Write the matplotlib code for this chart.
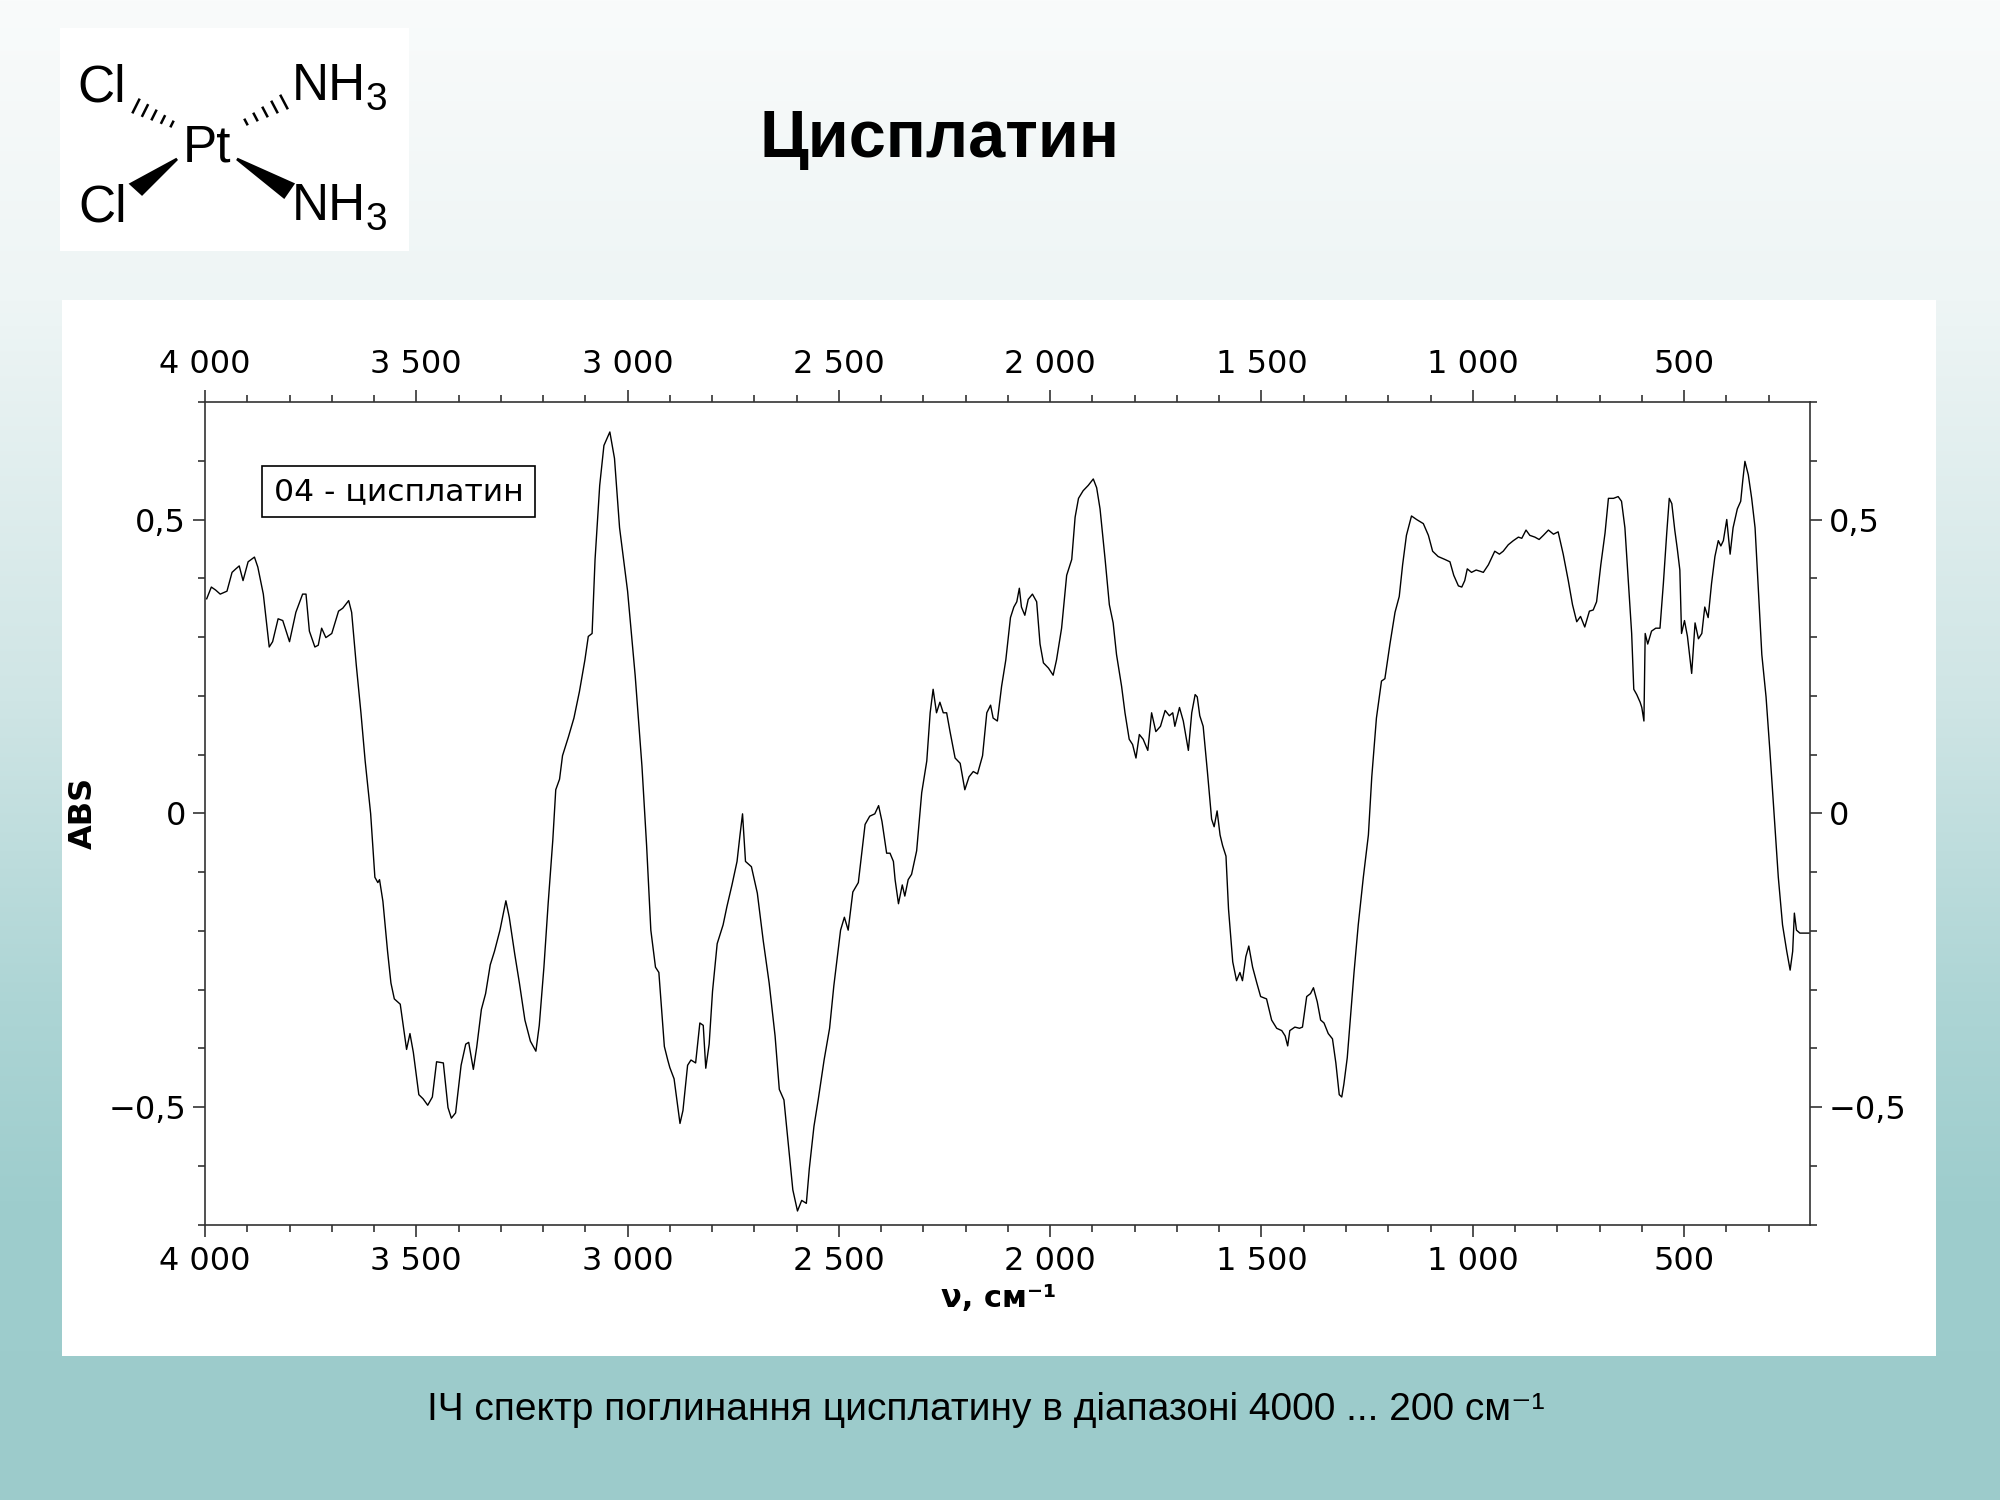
import numpy as np
import matplotlib
matplotlib.use("Agg")
import matplotlib.pyplot as plt
from matplotlib.ticker import MultipleLocator, FuncFormatter
from matplotlib.patches import Rectangle, Polygon

# IR spectrum of cisplatin
wavenumber = [
    3996, 3985, 3975, 3964, 3948, 3936, 3927, 3919, 3910, 3898, 3883, 3875, 3862,
    3848, 3840, 3827, 3816, 3800, 3785, 3769, 3761, 3753, 3740, 3732, 3724, 3714,
    3700, 3684, 3674, 3660, 3653, 3642, 3631, 3621, 3608, 3598, 3591, 3587, 3579,
    3568, 3560, 3552, 3538, 3523, 3515, 3507, 3494, 3484, 3473, 3462, 3452, 3436,
    3425, 3417, 3407, 3394, 3383, 3376, 3365, 3357, 3346, 3336, 3325, 3315, 3302,
    3288, 3280, 3267, 3256, 3243, 3230, 3217, 3209, 3198, 3188, 3177, 3170, 3161,
    3154, 3140, 3127, 3114, 3101, 3093, 3084, 3077, 3066, 3056, 3042, 3031, 3019,
    3000, 2982, 2966, 2955, 2945, 2934, 2926, 2913, 2905, 2900, 2890, 2876, 2869,
    2858, 2850, 2839, 2829, 2821, 2815, 2807, 2799, 2788, 2774, 2765, 2753, 2741,
    2734, 2728, 2721, 2707, 2693, 2679, 2665, 2651, 2641, 2630, 2619, 2609, 2598,
    2588, 2577, 2570, 2559, 2549, 2535, 2522, 2512, 2496, 2487, 2478, 2467, 2454,
    2438, 2427, 2415, 2406, 2398, 2387,
    2379, 2371, 2367, 2359, 2350, 2344, 2336, 2328, 2316, 2304, 2292, 2284, 2277,
    2269, 2261, 2253, 2245, 2237, 2225, 2213, 2202, 2192, 2182, 2172, 2160, 2150,
    2141, 2135, 2125, 2115, 2105, 2094, 2086, 2079, 2073, 2068, 2060, 2052, 2042,
    2032, 2024, 2016, 2004, 1993, 1985, 1973, 1961, 1949, 1941, 1933, 1922, 1910,
    1898, 1890, 1882, 1870, 1860, 1851, 1843, 1831, 1823, 1813, 1805, 1797, 1789,
    1780, 1769, 1760, 1750, 1739, 1728, 1718, 1710, 1705, 1694, 1685, 1673, 1665,
    1657, 1652, 1646, 1638, 1628, 1618, 1612, 1605, 1598, 1592, 1584, 1578, 1568,
    1559, 1551, 1545, 1537, 1530, 1521, 1511, 1502, 1488, 1476, 1464, 1452, 1444,
    1438, 1433, 1421, 1410, 1403, 1393, 1384, 1377, 1368, 1360, 1352, 1342, 1332,
    1324, 1316, 1310, 1305, 1297,
    1291, 1281, 1271, 1259, 1247, 1239, 1228, 1216, 1208, 1196, 1184, 1174, 1166,
    1157, 1145, 1133, 1117, 1105, 1095, 1082, 1066, 1054, 1045, 1034, 1026, 1019,
    1013, 1003, 992, 983, 975, 963, 948, 937, 928, 916, 904, 892, 884, 874, 865,
    853, 843, 833, 821, 809, 798, 786, 774, 764, 754, 745, 735, 724, 715, 707,
    697, 687, 679, 667, 656, 648, 640, 632, 624, 619, 612, 604, 600, 595, 592,
    586, 577, 567, 557, 549, 541, 535, 529, 522, 516, 510, 506, 499, 492, 482,
    474, 466, 458, 451, 443, 435, 427, 419, 413, 407, 399, 391, 384, 374, 366,
    361, 356, 348, 340, 332, 324, 316, 306, 297, 287, 277, 267, 257, 249, 243,
    239, 234, 226, 202,
]
absorbance = [
    0.365, 0.385, 0.380, 0.373, 0.378, 0.410, 0.416, 0.421, 0.396, 0.428, 0.436, 0.419, 0.373,
    0.283, 0.292, 0.331, 0.328, 0.292, 0.342, 0.373, 0.373, 0.310, 0.283, 0.286, 0.315, 0.299,
    0.306, 0.344, 0.349, 0.362, 0.342, 0.252, 0.171, 0.089, -0.001, -0.109, -0.118, -0.113, -0.150,
    -0.235, -0.289, -0.316, -0.325, -0.402, -0.375, -0.407, -0.479, -0.486, -0.497, -0.483, -0.423, -0.425,
    -0.501, -0.519, -0.510, -0.429, -0.393, -0.390, -0.436, -0.398, -0.334, -0.307, -0.258, -0.235, -0.199,
    -0.149, -0.177, -0.240, -0.289, -0.352, -0.388, -0.405, -0.361, -0.262, -0.154, -0.046, 0.040, 0.058,
    0.098, 0.130, 0.162, 0.207, 0.261, 0.301, 0.306, 0.432, 0.558, 0.626, 0.649, 0.604, 0.486,
    0.378, 0.234, 0.080, -0.055, -0.199, -0.262, -0.271, -0.397, -0.420, -0.433, -0.452, -0.528, -0.506,
    -0.429, -0.420, -0.425, -0.357, -0.361, -0.434, -0.393, -0.303, -0.222, -0.190, -0.159, -0.122, -0.082,
    -0.037, -0.001, -0.082, -0.091, -0.136, -0.217, -0.289, -0.379, -0.470, -0.488, -0.569, -0.641, -0.677,
    -0.659, -0.664, -0.605, -0.533, -0.488, -0.420, -0.366, -0.294, -0.199, -0.177, -0.199, -0.134, -0.118,
    -0.019, -0.005, -0.001, 0.013, -0.014, -0.068,
    -0.068, -0.082, -0.113, -0.154, -0.122, -0.141, -0.113, -0.104, -0.064, 0.035, 0.089, 0.171, 0.211,
    0.171, 0.189, 0.171, 0.171, 0.139, 0.094, 0.085, 0.040, 0.062, 0.071, 0.067, 0.098, 0.171,
    0.184, 0.162, 0.157, 0.216, 0.261, 0.333, 0.351, 0.360, 0.383, 0.351, 0.337, 0.364, 0.373,
    0.360, 0.288, 0.256, 0.247, 0.235, 0.261, 0.315, 0.405, 0.432, 0.504, 0.536, 0.549, 0.558,
    0.569, 0.554, 0.518, 0.432, 0.355, 0.324, 0.270, 0.216, 0.171, 0.126, 0.117, 0.094, 0.134,
    0.126, 0.107, 0.171, 0.139, 0.148, 0.175, 0.166, 0.171, 0.148, 0.180, 0.157, 0.107, 0.171,
    0.202, 0.198, 0.166, 0.148, 0.071, -0.010, -0.023, 0.004, -0.037, -0.055, -0.073, -0.163, -0.253,
    -0.285, -0.271, -0.285, -0.244, -0.226, -0.262, -0.289, -0.312, -0.316, -0.352, -0.366, -0.370, -0.379,
    -0.396, -0.370, -0.364, -0.366, -0.364, -0.312, -0.307, -0.297, -0.321, -0.352, -0.357, -0.375, -0.384,
    -0.425, -0.479, -0.483, -0.461, -0.416,
    -0.361, -0.271, -0.190, -0.109, -0.037, 0.062, 0.162, 0.225, 0.229, 0.288, 0.342, 0.369, 0.423,
    0.473, 0.506, 0.500, 0.493, 0.473, 0.446, 0.437, 0.432, 0.428, 0.405, 0.387, 0.385, 0.396,
    0.416, 0.410, 0.414, 0.412, 0.410, 0.423, 0.446, 0.441, 0.446, 0.457, 0.464, 0.470, 0.468, 0.482, 0.473,
    0.470, 0.466, 0.473, 0.482, 0.475, 0.479, 0.441, 0.396, 0.355, 0.326, 0.335, 0.317, 0.344, 0.346, 0.360,
    0.423, 0.477, 0.536, 0.536, 0.539, 0.531, 0.486, 0.396, 0.306, 0.211, 0.202, 0.189, 0.180, 0.157, 0.306,
    0.288, 0.310, 0.315, 0.315, 0.391, 0.477, 0.536, 0.527, 0.482, 0.450, 0.414, 0.306, 0.328, 0.301, 0.238,
    0.324, 0.297, 0.306, 0.351, 0.333, 0.391, 0.437, 0.464, 0.455, 0.464, 0.500, 0.441, 0.486, 0.518, 0.531,
    0.567, 0.599, 0.576, 0.536, 0.486, 0.378, 0.270, 0.198, 0.107, -0.001, -0.109, -0.190, -0.235, -0.267, -0.235,
    -0.170, -0.199, -0.204, -0.204,
]

title = "Цисплатин"
legend_label = "04 - цисплатин"
caption = "ІЧ спектр поглинання цисплатину в діапазоні 4000 ... 200 см⁻¹"

fig = plt.figure(figsize=(10, 7.5), dpi=200)

# slide background: white at the top fading to teal
ax_bg = fig.add_axes([0, 0, 1, 1], zorder=-1)
stops_y = [0, 300, 700, 1000, 1200, 1500]
stops_c = np.array([[249, 251, 251], [238, 245, 245], [207, 229, 229],
                    [173, 213, 213], [158, 205, 205], [156, 203, 203]]) / 255
yy = np.arange(1500)
grad = np.stack([np.interp(yy, stops_y, stops_c[:, i]) for i in range(3)], axis=-1)
ax_bg.imshow(grad[:, None, :], aspect="auto", extent=[0, 1, 0, 1])
ax_bg.add_patch(Rectangle((62 / 2000, 1 - 1356 / 1500), 1874 / 2000, 1056 / 1500,
                          facecolor="white", edgecolor="none"))
ax_bg.add_patch(Rectangle((60 / 2000, 1 - 251 / 1500), 349 / 2000, 223 / 1500,
                          facecolor="white", edgecolor="none"))
ax_bg.set_xlim(0, 1)
ax_bg.set_ylim(0, 1)
ax_bg.axis("off")

# structure formula
ax_s = fig.add_axes([60 / 2000, 1 - 251 / 1500, 349 / 2000, 223 / 1500])
ax_s.set_xlim(60, 409)
ax_s.set_ylim(251, 28)
ax_s.axis("off")
sfont = dict(family=["Liberation Sans", "DejaVu Sans"], fontsize=18.5, color="black")
ax_s.text(102, 102, "Cl", ha="center", va="baseline", **sfont)
ax_s.text(103, 222, "Cl", ha="center", va="baseline", **sfont)
ax_s.text(207, 162, "Pt", ha="center", va="baseline", **sfont)
ax_s.text(292, 100, "NH", ha="left", va="baseline", **sfont)
ax_s.text(292, 220, "NH", ha="left", va="baseline", **sfont)
ax_s.text(366, 110, "3", ha="left", va="baseline", family=sfont["family"], fontsize=14)
ax_s.text(366, 230, "3", ha="left", va="baseline", family=sfont["family"], fontsize=14)


def hashed(p_wide, p_narrow, n=5):
    p_wide = np.array(p_wide, float)
    p_narrow = np.array(p_narrow, float)
    d = p_narrow - p_wide
    perp = np.array([-d[1], d[0]]) / np.hypot(*d)
    for t in np.linspace(0, 1, n):
        c = p_wide + t * d
        h = 7 - 4.5 * t
        ax_s.plot([c[0] - perp[0] * h, c[0] + perp[0] * h],
                  [c[1] - perp[1] * h, c[1] + perp[1] * h], color="black", lw=0.9)


hashed((136, 106), (172, 124))
hashed((284, 102), (246, 122))
ax_s.add_patch(Polygon([(177, 159), (131, 184), (142, 194)], closed=True, color="black"))
ax_s.add_patch(Polygon([(237, 159), (293, 184), (284, 197)], closed=True, color="black"))

fig.text(0.4695, 1 - 157 / 1500, title, ha="center", va="baseline",
         family=["Liberation Sans", "DejaVu Sans"], fontweight="bold", fontsize=24)

# spectrum
ax = fig.add_axes([205 / 2000, 1 - 1224.5 / 1500, 1605 / 2000, 822.5 / 1500])
ax.set_facecolor("white")
ax.plot(wavenumber, absorbance, color="black", lw=0.5)
ax.set_xlim(4000, 202)
ax.set_ylim(-0.7, 0.7)
ax.xaxis.set_major_locator(MultipleLocator(500))
ax.xaxis.set_minor_locator(MultipleLocator(100))
ax.yaxis.set_major_locator(MultipleLocator(0.5))
ax.yaxis.set_minor_locator(MultipleLocator(0.1))
ax.xaxis.set_major_formatter(FuncFormatter(lambda v, p: f"{int(round(v)):,}".replace(",", " ")))


def yfmt(v, p):
    if abs(v) < 1e-9:
        return "0"
    return f"{v:.1f}".replace(".", ",").replace("-", "\u2212")


ax.yaxis.set_major_formatter(FuncFormatter(yfmt))
spine_c = "#333333"
for s in ax.spines.values():
    s.set_color(spine_c)
    s.set_linewidth(0.6)
ax.tick_params(which="both", direction="out", top=True, right=True,
               labeltop=True, labelright=True, color=spine_c, width=0.6,
               labelsize=11.5)
ax.tick_params(which="major", length=4.3)
ax.tick_params(which="minor", length=2.5)
ax.tick_params(axis="x", which="major", pad=3.5)
ax.tick_params(axis="y", which="major", pad=2.5)

ax.set_xlabel("ν, см⁻¹", fontweight="bold", fontsize=11)
ax.xaxis.set_label_coords(0.4947, -0.072)
ax.set_ylabel("ABS", fontweight="bold", fontsize=11.5)
ax.yaxis.set_label_coords(-0.066, 0.5)

ax.text(0.1206, 0.891, legend_label, transform=ax.transAxes, ha="center", va="center",
        fontsize=11.3, bbox=dict(boxstyle="square,pad=0.36", facecolor="white",
                                 edgecolor="black", linewidth=0.6))

fig.text(0.493, 0.06, caption, ha="center", va="center", fontsize=14,
         family=["Liberation Sans Narrow", "Liberation Sans", "DejaVu Sans"])

fig.savefig("out.png", dpi=200)
